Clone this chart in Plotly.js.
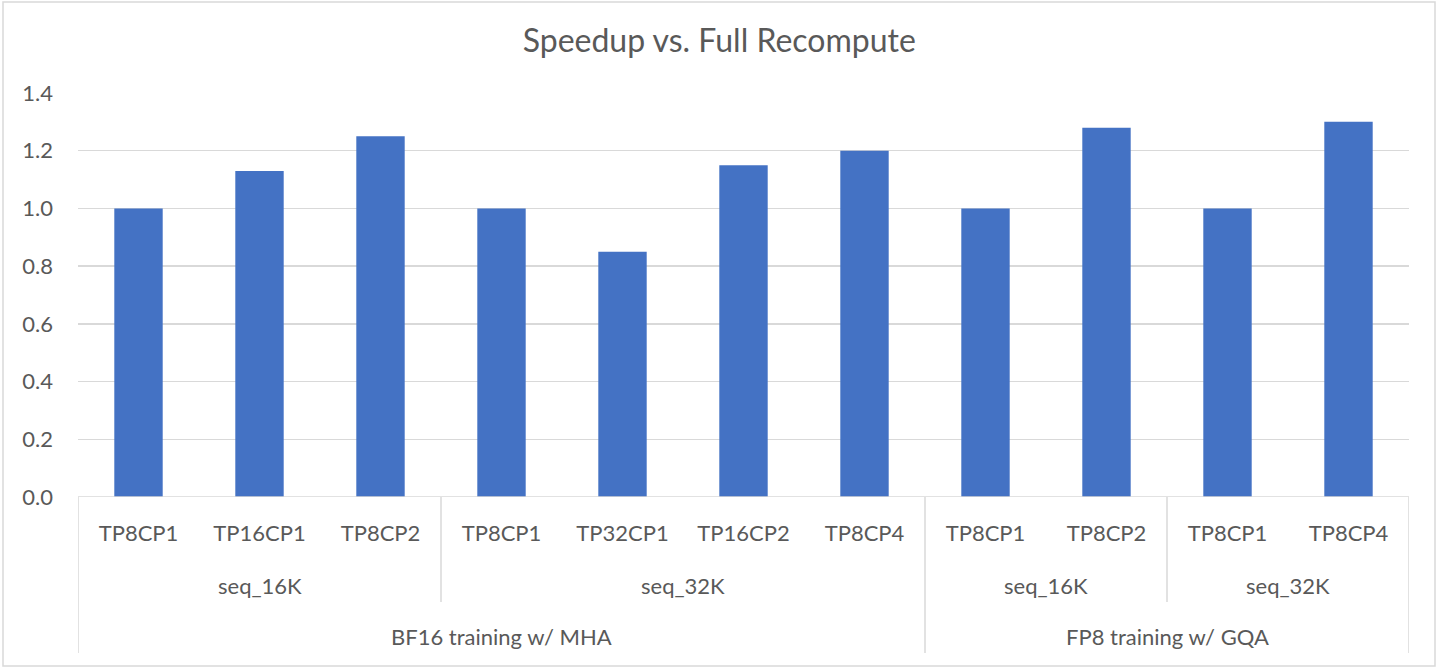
<!DOCTYPE html>
<html>
<head>
<meta charset="utf-8">
<script src="https://cdn.plot.ly/plotly-3.0.1.min.js"></script>
<style>
html,body{margin:0;padding:0;background:#fff;}
#chart{width:1440px;height:671px;}
</style>
</head>
<body>
<div id="chart"></div>
<script>
// Data
const configs = ['TP8CP1','TP16CP1','TP8CP2','TP8CP1','TP32CP1','TP16CP2','TP8CP4','TP8CP1','TP8CP2','TP8CP1','TP8CP4'];
const seqLens = ['seq_16K','seq_16K','seq_16K','seq_32K','seq_32K','seq_32K','seq_32K','seq_16K','seq_16K','seq_32K','seq_32K'];
const trainings = ['BF16 training w/ MHA','BF16 training w/ MHA','BF16 training w/ MHA','BF16 training w/ MHA','BF16 training w/ MHA','BF16 training w/ MHA','BF16 training w/ MHA','FP8 training w/ GQA','FP8 training w/ GQA','FP8 training w/ GQA','FP8 training w/ GQA'];
const speedup = [1.0, 1.13, 1.25, 1.0, 0.85, 1.15, 1.2, 1.0, 1.28, 1.0, 1.3];
const yTicks = [0, 0.2, 0.4, 0.6, 0.8, 1.0, 1.2, 1.4];
const yTickText = ['0.0','0.2','0.4','0.6','0.8','1.0','1.2','1.4'];

const FONT = 'Lato, "Open Sans", sans-serif';
const TXT = '#595959';
const LINE = '#d9d9d9';
const LBL = 22;
const idx = configs.map((_, i) => i);

// Group helpers
function groups(keyFn) {
  const out = [];
  idx.forEach(i => {
    const k = keyFn(i);
    if (out.length && out[out.length - 1].key === k) out[out.length - 1].end = i;
    else out.push({key: k, start: i, end: i});
  });
  return out;
}
const lvl2 = groups(i => trainings[i] + '|' + seqLens[i]);
const lvl3 = groups(i => trainings[i]);

const Y2 = -0.218, Y3 = -0.345;
const SEP2 = -0.26, SEP3 = -0.386;

const annotations = [];
lvl2.forEach(g => annotations.push({
  x: (g.start + g.end) / 2, xref: 'x', y: Y2, yref: 'paper',
  text: seqLens[g.start], showarrow: false,
  font: {family: FONT, size: LBL, color: TXT}, yanchor: 'middle'
}));
lvl3.forEach(g => annotations.push({
  x: (g.start + g.end) / 2, xref: 'x', y: Y3, yref: 'paper',
  text: trainings[g.start], showarrow: false,
  font: {family: FONT, size: LBL, color: TXT}, yanchor: 'middle'
}));

const shapes = [];
// outer border
shapes.push({type: 'rect', xref: 'paper', yref: 'paper',
  x0: (3 - 78) / 1331, x1: (1435 - 78) / 1331, y0: (497 - 666) / 404, y1: (497 - 2) / 404,
  line: {color: LINE, width: 1.5}, fillcolor: 'rgba(0,0,0,0)'});
// separators
const bounds3 = new Set([ -0.5, configs.length - 0.5 ]);
lvl3.forEach(g => { bounds3.add(g.start - 0.5); bounds3.add(g.end + 0.5); });
const bounds2 = new Set();
lvl2.forEach(g => { bounds2.add(g.start - 0.5); bounds2.add(g.end + 0.5); });
bounds3.forEach(b => shapes.push({type: 'line', xref: 'x', yref: 'paper', x0: b, x1: b, y0: 0, y1: SEP3, line: {color: LINE, width: 1.5}}));
bounds2.forEach(b => { if (!bounds3.has(b)) shapes.push({type: 'line', xref: 'x', yref: 'paper', x0: b, x1: b, y0: 0, y1: SEP2, line: {color: LINE, width: 1.5}}); });
// baseline
shapes.push({type: 'line', xref: 'paper', yref: 'y', x0: 0, x1: 1, y0: 0, y1: 0, line: {color: LINE, width: 1.5}});

const trace = {
  type: 'bar', x: idx, y: speedup,
  marker: {color: '#4472C4', line: {width: 0}},
  hoverinfo: 'y'
};

const layout = {
  width: 1440, height: 671,
  margin: {l: 78, r: 31, t: 93, b: 174},
  paper_bgcolor: '#ffffff', plot_bgcolor: '#ffffff',
  title: {text: 'Speedup vs. Full Recompute', x: 0.4995, xref: 'container', xanchor: 'center', y: 0.939, yref: 'container', yanchor: 'middle',
    font: {family: FONT, size: 32, color: TXT}},
  bargap: 0.6,
  showlegend: false,
  xaxis: {range: [-0.5, configs.length - 0.5], tickvals: idx, ticktext: configs, showgrid: false, zeroline: false,
    showline: false, ticks: '', tickfont: {family: FONT, size: LBL, color: TXT}, ticklabelstandoff: 21, fixedrange: true},
  yaxis: {range: [0, 1.4], tickvals: yTicks, ticktext: yTickText, showgrid: true, gridcolor: LINE, gridwidth: 1.5,
    zeroline: false, showline: false, ticks: '', tickfont: {family: FONT, size: LBL, color: TXT}, ticklabelstandoff: 24, fixedrange: true},
  annotations: annotations,
  shapes: shapes
};

Plotly.newPlot('chart', [trace], layout, {displayModeBar: false, staticPlot: true});
</script>
</body>
</html>
